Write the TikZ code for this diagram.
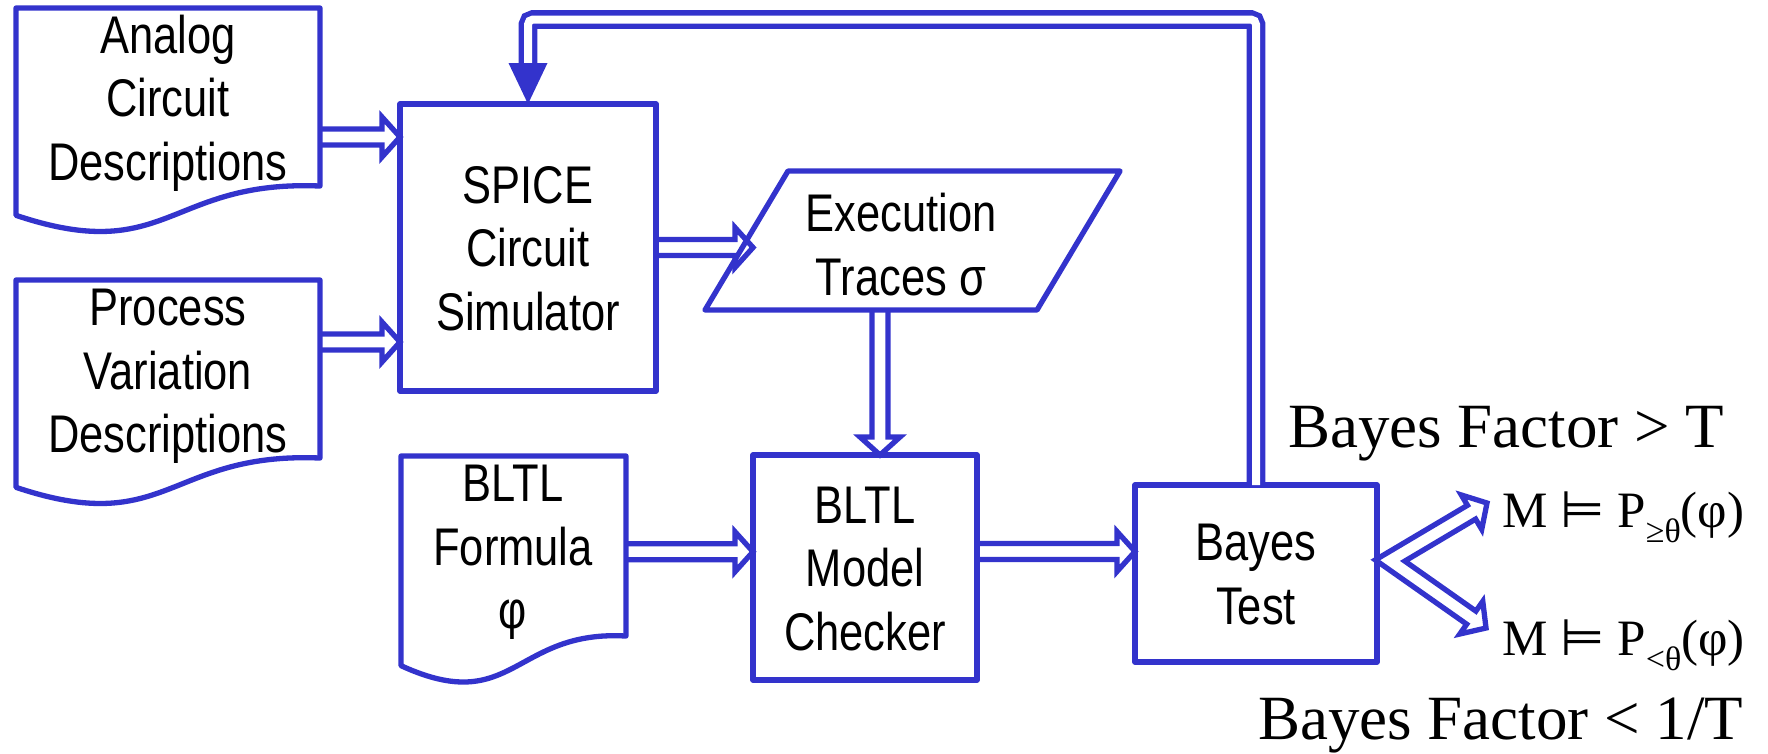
\documentclass[tikz,border=0pt]{standalone}
\usepackage{fontspec}
\setmainfont{Liberation Serif}
\setsansfont{Liberation Sans}[FakeStretch=0.82]
\newfontfamily\modelsfont{DejaVu Sans}
\usetikzlibrary{calc}
\definecolor{flowblue}{RGB}{51,51,204}
% struts that keep multi-line labels visually centred on the node
\newcommand\upstrut{\rule{0pt}{60pt}}
\newcommand\downstrut{\rule[-22pt]{0pt}{22pt}}

\tikzset{
  outline/.style={draw=flowblue, line width=5.3pt, line join=round},
  procbox/.style={outline, rectangle, inner sep=0pt, outer sep=0pt},
  shapeonly/.style={rectangle, inner sep=0pt, outer sep=0pt},
  lbl/.style={font=\sffamily\fontsize{53}{63.5}\selectfont, align=center, inner sep=0pt, outer sep=0pt},
  res/.style={font=\rmfamily\fontsize{63}{63}\selectfont, inner sep=0pt, anchor=base west},
  verdict/.style={font=\rmfamily\fontsize{51}{51}\selectfont, inner sep=0pt, anchor=base west},
  arrowline/.style={draw=flowblue, line width=5.3pt, line join=miter},
  fbline/.style={draw=flowblue, line width=5.3pt, double=white, double distance=8pt, rounded corners=5pt},
}

% document symbol with a wavy lower edge around a shape node
\newcommand\docshape[1]{%
  \draw[outline] ($(#1.north west)!0.9339!(#1.south west)$) -- (#1.north west) -- (#1.north east)
    -- ($(#1.north east)!0.8019!(#1.south east)$)
    .. controls ($(#1.north)!0.7733!(#1.south)$) and ($(#1.north)!1.1637!(#1.south)$)
    .. ($(#1.north west)!0.9339!(#1.south west)$) -- cycle;
}

% hollow double-line block arrow from #1 to the tip #2
\newcommand\dblarrow[2]{%
  \coordinate (dh) at ($(#2)!18pt!(#1)$);
  \draw[arrowline] ($(#1)!8pt!90:(#2)$) -- ($(dh)!8pt!90:(#2)$) -- ($(dh)!20pt!90:(#2)$)
    -- (#2) -- ($(dh)!20pt!-90:(#2)$) -- ($(dh)!8pt!-90:(#2)$) -- ($(#1)!8pt!-90:(#2)$);
}

\begin{document}
\begin{tikzpicture}[x=1pt,y=-1pt]
\useasboundingbox (0,0) rectangle (1768,753);

% input documents
\node[shapeonly, minimum width=304pt, minimum height=222pt] (analog) at (168,119) {};
\docshape{analog}
\node[lbl] (analogtxt) at (168,97.7) {\upstrut Analog\\Circuit\\Descriptions\downstrut};

\node[shapeonly, minimum width=304pt, minimum height=222pt] (process) at (168,391) {};
\docshape{process}
\node[lbl] (processtxt) at (168,370) {\upstrut Process\\Variation\\Descriptions\downstrut};

\node[shapeonly, minimum width=225pt, minimum height=224.5pt] (formula) at (513.5,568.25) {};
\docshape{formula}
\node[lbl] (formulatxt) at (513,546) {\upstrut BLTL\\Formula\\φ\downstrut};

% simulator and model checking blocks
\node[procbox, lbl, minimum width=256pt, minimum height=287pt] (spice) at (528,247.5)
  {\upstrut SPICE\\Circuit\\Simulator\downstrut};
\node[procbox, lbl, minimum width=224pt, minimum height=225pt] (mc) at (865,567.5)
  {\upstrut BLTL\\Model\\Checker\downstrut};
\node[procbox, lbl, minimum width=242pt, minimum height=177pt] (bayes) at (1256,573.5)
  {\upstrut Bayes\\Test\downstrut};

% execution traces (parallelogram)
\node[shapeonly, minimum width=249pt, minimum height=139pt] (exec) at (912.5,240.5) {};
\draw[outline] ($(exec.south west)+(-83,0)$) -- (exec.north west) -- ($(exec.north east)+(83,0)$)
  -- (exec.south east) -- cycle;
\node[lbl] (exectxt) at (901,244.5) {\upstrut Execution\\Traces σ\downstrut};

% decision labels
\node[res] (bfhi) at (1288,447) {Bayes Factor > T};
\node[res] (bflo) at (1258,739) {Bayes Factor < 1/T};
\node[verdict] (ygeq) at (1502,527)
  {M {\modelsfont ⊨} P\raisebox{-15pt}{\fontsize{34}{34}\selectfont ≥θ}(φ)};
\node[verdict] (yless) at (1502,655)
  {M {\modelsfont ⊨} P\raisebox{-15pt}{\fontsize{34}{34}\selectfont <θ}(φ)};

% connectors
\coordinate (a1) at ($(analog.east)+(0,18)$);
\coordinate (a1e) at (a1 -| spice.west);
\dblarrow{a1}{a1e}

\coordinate (p1) at ($(process.east)+(0,-49)$);
\coordinate (p1e) at (p1 -| spice.west);
\dblarrow{p1}{p1e}

\coordinate (s1) at (spice.east);
\coordinate (s1e) at ($(spice.east -| exec.west)+(-35,0)$);
\dblarrow{s1}{s1e}

\coordinate (e1) at ($(exec.south)+(-32.5,0)$);
\coordinate (e1e) at (e1 |- mc.north);
\dblarrow{e1}{e1e}

\coordinate (f1) at ($(formula.east)+(0,-16.5)$);
\coordinate (f1e) at (f1 -| mc.west);
\dblarrow{f1}{f1e}

\coordinate (m1) at ($(mc.east)+(0,-16)$);
\coordinate (m1e) at (m1 -| bayes.west);
\dblarrow{m1}{m1e}

% forked outcome arrows from the Bayes test
\coordinate (fs) at ($(bayes.east)+(13,-13)$);
\coordinate (t1) at ($(ygeq.base west)+(-15,-24)$);
\coordinate (t2) at ($(yless.base west)+(-16,-27)$);
\coordinate (h1) at ($(t1)!18pt!(fs)$);
\coordinate (h2) at ($(t2)!18pt!(fs)$);
\coordinate (p1u) at ($(fs)!8pt!90:(t1)$);
\coordinate (q1u) at ($(h1)!8pt!90:(t1)$);
\coordinate (r1u) at ($(h1)!20pt!90:(t1)$);
\coordinate (p1l) at ($(fs)!8pt!-90:(t1)$);
\coordinate (q1l) at ($(h1)!8pt!-90:(t1)$);
\coordinate (r1l) at ($(h1)!20pt!-90:(t1)$);
\coordinate (p2u) at ($(fs)!8pt!90:(t2)$);
\coordinate (q2u) at ($(h2)!8pt!90:(t2)$);
\coordinate (r2u) at ($(h2)!20pt!90:(t2)$);
\coordinate (p2l) at ($(fs)!8pt!-90:(t2)$);
\coordinate (q2l) at ($(h2)!8pt!-90:(t2)$);
\coordinate (r2l) at ($(h2)!20pt!-90:(t2)$);
\coordinate (fo) at (intersection of p1u--q1u and p2l--q2l);
\coordinate (fi) at (intersection of p1l--q1l and p2u--q2u);
\draw[arrowline] (fo) -- (q1u) -- (r1u) -- (t1) -- (r1l) -- (q1l) -- (fi)
  -- (q2u) -- (r2u) -- (t2) -- (r2l) -- (q2l) -- cycle;

% feedback loop back to the simulator
\coordinate (fbend) at ($(spice.north)+(0,-41)$);
\draw[fbline] (bayes.north) -- ++(0,-465.5) -| (fbend);
\fill[flowblue] ($(fbend)+(-19.5,0)$) -- ($(fbend)+(19.5,0)$) -- (spice.north) -- cycle;
\end{tikzpicture}
\end{document}
